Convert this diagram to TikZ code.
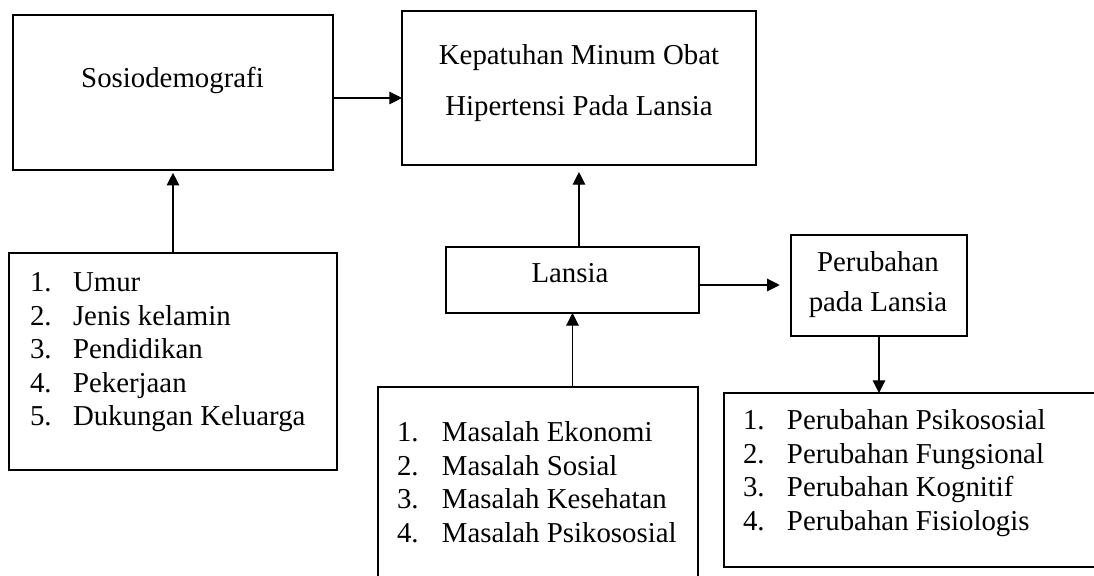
\documentclass[tikz,border=0pt]{standalone}
\usepackage{fontspec}
\setmainfont{Liberation Serif}
\usetikzlibrary{arrows.meta}

\tikzset{
  box/.style={draw, line width=1.4pt, inner sep=0pt, outer sep=0pt},
  txt/.style={inner sep=0pt, outer sep=0pt, font=\fontsize{20.5}{23.8}\selectfont},
  arr/.style={-{Triangle[length=9pt,width=9pt]}, line width=0.8pt}
}

\begin{document}
\begin{tikzpicture}[x=0.025cm, y=-0.025cm]
  \clip (0,0) rectangle (1094,576);

  % boxes
  \node[box, minimum width=8cm,    minimum height=3.875cm] (sosio)   at (173,92.5)  {};
  \node[box, minimum width=8.85cm, minimum height=3.85cm]  (kep)     at (579,88)    {};
  \node[box, minimum width=8.2cm,  minimum height=5.425cm] (umur)    at (173,361.5) {};
  \node[box, minimum width=6.325cm,minimum height=1.65cm]  (lansia)  at (572.5,280) {};
  \node[box, minimum width=4.4cm,  minimum height=2.525cm] (perub)   at (879,285.5) {};
  \node[box, minimum width=8cm,    minimum height=5.575cm] (masalah) at (538,498.5) {};
  \node[box, minimum width=9.65cm, minimum height=4.35cm]  (perlist) at (917,480)   {};

  % texts
  \node[txt, anchor=base] (tsosio) at (172.5,88) {Sosiodemografi};
  \node[txt, anchor=base, font=\fontsize{20.5}{35.6}\selectfont] (tkep) at (579,65)
    {\begin{tabular}[t]{@{}c@{}}Kepatuhan Minum Obat\\ Hipertensi Pada Lansia\end{tabular}};
  \node[txt, anchor=base] (tlansia) at (570,283) {Lansia};
  \node[txt, anchor=base, font=\fontsize{20.5}{28.4}\selectfont] (tperub) at (878,272)
    {\begin{tabular}[t]{@{}c@{}}Perubahan\\ pada Lansia\end{tabular}};

  \node[txt, anchor=base west] (tumur) at (30,292)
    {\begin{tabular}[t]{@{}p{30.6pt}@{}l@{}}
      1. & Umur\\
      2. & Jenis kelamin\\
      3. & Pendidikan\\
      4. & Pekerjaan\\
      5. & Dukungan Keluarga
    \end{tabular}};
  \node[txt, anchor=base west] (tmasalah) at (397,442)
    {\begin{tabular}[t]{@{}p{32pt}@{}l@{}}
      1. & Masalah Ekonomi\\
      2. & Masalah Sosial\\
      3. & Masalah Kesehatan\\
      4. & Masalah Psikososial
    \end{tabular}};
  \node[txt, anchor=base west] (tperlist) at (743,430)
    {\begin{tabular}[t]{@{}p{31.3pt}@{}l@{}}
      1. & Perubahan Psikososial\\
      2. & Perubahan Fungsional\\
      3. & Perubahan Kognitif\\
      4. & Perubahan Fisiologis
    \end{tabular}};

  % arrows
  \draw[arr] (sosio.east |- 0,98) -- (kep.west |- 0,98);
  \draw[arr, shorten >=2pt] (umur.north) -- (sosio.south);
  \draw[arr, shorten >=5pt] (kep.south |- lansia.north) -- (kep.south);
  \draw[arr] (lansia.south |- masalah.north) -- (lansia.south);
  \draw[arr, shorten >=8pt] (lansia.east |- 0,285) -- (perub.west |- 0,285);
  \draw[arr] (perub.south) -- (perub.south |- perlist.north);
\end{tikzpicture}
\end{document}
